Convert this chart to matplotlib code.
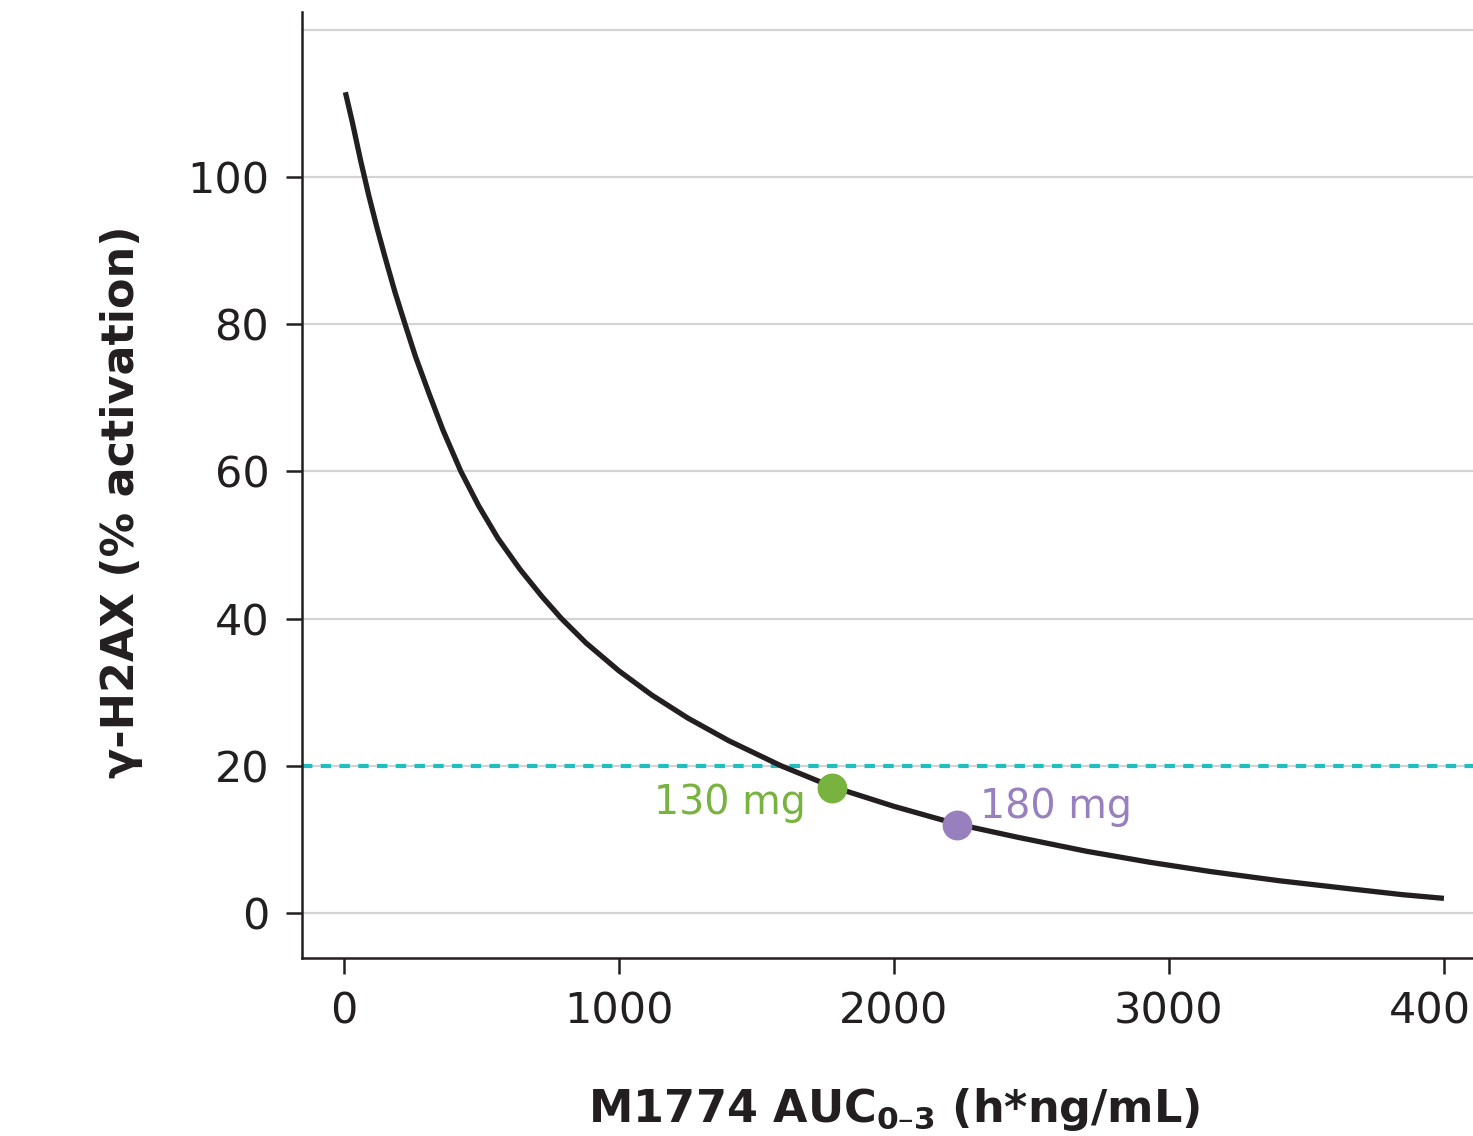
import matplotlib
matplotlib.use("Agg")
import matplotlib.pyplot as plt

# ---- data ----
auc = [5, 30, 60, 90, 120, 150, 185, 222, 260, 310, 360, 425, 490, 560, 640,
       720, 791, 880, 1000, 1120, 1250, 1400, 1590, 1773, 2000, 2228, 2450,
       2700, 2931, 3150, 3400, 3658, 3850, 4000]
activation = [111.5, 107.5, 102.3, 97.5, 93.1, 89.0, 84.4, 80.0, 75.6, 70.5,
              65.6, 60.0, 55.3, 50.9, 46.7, 43.0, 40.0, 36.7, 32.9, 29.6, 26.5,
              23.4, 20.0, 17.2, 14.5, 12.1, 10.3, 8.4, 6.9, 5.65, 4.4, 3.3,
              2.5, 2.0]

dose_labels = ["130 mg", "180 mg"]
dose_auc = [1773, 2228]
dose_act = [17.05, 12.0]
dose_colors = ["#79b33f", "#9880be"]

threshold = 20
xticks = [0, 1000, 2000, 3000, 4000]
yticks = [0, 20, 40, 60, 80, 100]
grid_levels = [0, 20, 40, 60, 80, 100, 120]

W, H, DPI = 1473, 1136, 100
fig = plt.figure(figsize=(W / DPI, H / DPI), dpi=DPI)
plt.rcParams['font.family'] = ['DejaVu Sans']
plt.rcParams['mathtext.fontset'] = 'dejavusans'

dark = "#231f20"
ax = fig.add_axes([302 / W, 178 / H, (1486 - 302) / W, (958 - 12) / H])
ax.set_xlim(-152.7, 4153)
ax.set_ylim(-6.1, 122.4)

for g in grid_levels:
    ax.axhline(g, color="#d3d3d3", lw=1.6, zorder=0)

ax.axhline(threshold, color="#1fbfbf", lw=3.0, dashes=(2.5, 2.0), zorder=1)

ax.plot(auc, activation, color=dark, lw=3.8, solid_capstyle='butt',
        solid_joinstyle='round', zorder=2)

offsets = [(-26, -26), (23, 7)]
has = ['right', 'left']
for lab, xv, yv, c, off, ha in zip(dose_labels, dose_auc, dose_act, dose_colors, offsets, has):
    ax.plot([xv], [yv], 'o', ms=21.5, color=c, mec='none', zorder=3)
    ax.annotate(lab, (xv, yv), xytext=off, textcoords='offset pixels',
                ha=ha, va='baseline', fontsize=28.5, color=c)

for s in ['top', 'right']:
    ax.spines[s].set_visible(False)
for s in ['left', 'bottom']:
    ax.spines[s].set_linewidth(1.8)
    ax.spines[s].set_color(dark)

ax.set_xticks(xticks)
ax.set_yticks(yticks)
ax.tick_params(axis='both', length=11.5, width=1.8, color=dark, pad=12,
               labelsize=31, labelcolor=dark)

ax.set_xlabel(r"M1774 AUC$_{\mathbf{0–3}}$ (h*ng/mL)", fontsize=32,
              fontweight='bold', color=dark)
ax.xaxis.set_label_coords((894 - 302) / (1486 - 302), -(1086 - 958) / (958 - 12))
ax.set_ylabel("γ-H2AX (% activation)", fontsize=32, fontweight='bold',
              color=dark)
ax.yaxis.set_label_coords(-(302 - 143) / (1486 - 302), (958 - 502) / (958 - 12))

fig.savefig("out.png", dpi=DPI)
